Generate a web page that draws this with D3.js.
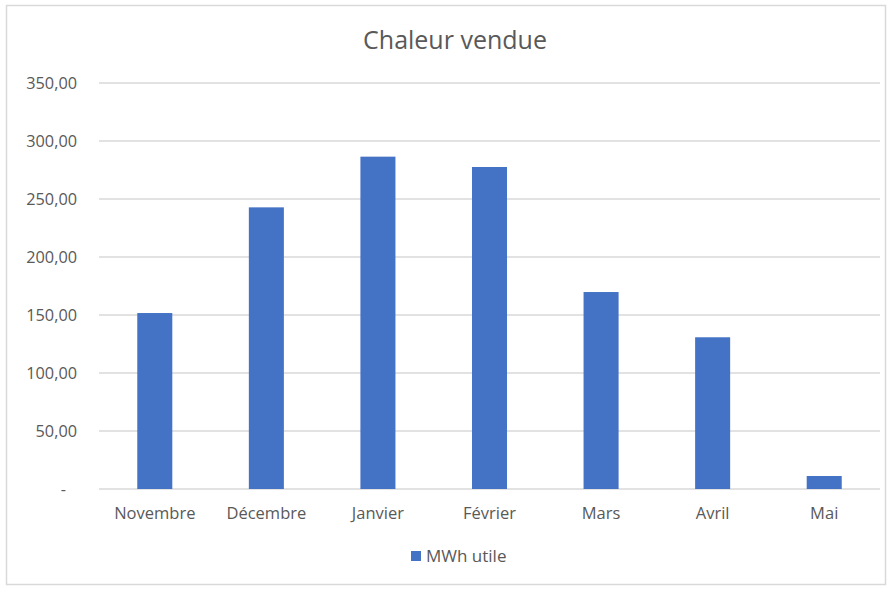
<!DOCTYPE html>
<html>
<head>
<meta charset="utf-8">
<script src="https://cdn.jsdelivr.net/npm/d3@7"></script>
<style>
  body { margin: 0; background: #fff; }
  text { font-family: "Open Sans", Lato, sans-serif; fill: #595959; }
</style>
</head>
<body>
<svg id="canvas"></svg>
<script>
var months = ["Novembre", "Décembre", "Janvier", "Février", "Mars", "Avril", "Mai"];
var mwh = [151.7, 242.8, 286.5, 277.6, 169.8, 130.8, 11.2];
var yTicks = [0, 50, 100, 150, 200, 250, 300, 350];
var seriesName = "MWh utile";
var title = "Chaleur vendue";

var W = 891, H = 590;
var margin = {top: 83, right: 11, bottom: 101, left: 99};
var width = W - margin.left - margin.right;
var height = H - margin.top - margin.bottom;

var svg = d3.select("#canvas").attr("width", W).attr("height", H);

// chart frame
svg.append("rect")
  .attr("x", 6.5).attr("y", 5.5)
  .attr("width", 879).attr("height", 579)
  .attr("fill", "#fff").attr("stroke", "#d9d9d9").attr("stroke-width", 1.5);

svg.append("text")
  .attr("x", 455).attr("y", 49)
  .attr("text-anchor", "middle")
  .style("font-size", "25px")
  .text(title);

var g = svg.append("g")
  .attr("transform", "translate(" + margin.left + "," + margin.top + ")");

var x = d3.scaleBand().domain(months).range([0, width]).paddingInner(0.686).paddingOuter(0.343);
var y = d3.scaleLinear().domain([0, 350]).range([height, 0]);

function fmt(d) {
  if (d === 0) return "-";
  return d.toFixed(2).replace(".", ",");
}

// gridlines
g.selectAll(".grid")
  .data(yTicks)
  .enter().append("line")
    .attr("class", "grid")
    .attr("x1", 0).attr("x2", width)
    .attr("y1", function(d) { return y(d); })
    .attr("y2", function(d) { return y(d); })
    .attr("stroke", "#d9d9d9").attr("stroke-width", 1.5);

// y axis labels
var yAxis = d3.axisLeft(y).tickValues(yTicks).tickFormat(fmt).tickSize(0).tickPadding(22);
var ya = g.append("g").call(yAxis);
ya.select(".domain").remove();
ya.selectAll("text").style("font-size", "16.3px").attr("fill", "#595959")
  .attr("dx", function(d) { return d === 0 ? "-11px" : 0; });

// bars
g.selectAll(".bar")
  .data(mwh)
  .enter().append("rect")
    .attr("class", "bar")
    .attr("x", function(d, i) { return x(months[i]); })
    .attr("y", function(d) { return y(d); })
    .attr("width", x.bandwidth())
    .attr("height", function(d) { return height - y(d); })
    .attr("fill", "#4472c4");

// x axis labels
var xAxis = d3.axisBottom(x).tickSize(0).tickPadding(18);
var xa = g.append("g").attr("transform", "translate(0," + height + ")").call(xAxis);
xa.select(".domain").remove();
xa.selectAll("text").style("font-size", "16.5px").attr("fill", "#595959");

// legend
var legend = svg.append("g").attr("transform", "translate(411,551)");
legend.append("rect").attr("width", 10).attr("height", 10).attr("fill", "#4472c4");
legend.append("text").attr("x", 15).attr("y", 11).style("font-size", "17px").text(seriesName);
</script>
</body>
</html>
